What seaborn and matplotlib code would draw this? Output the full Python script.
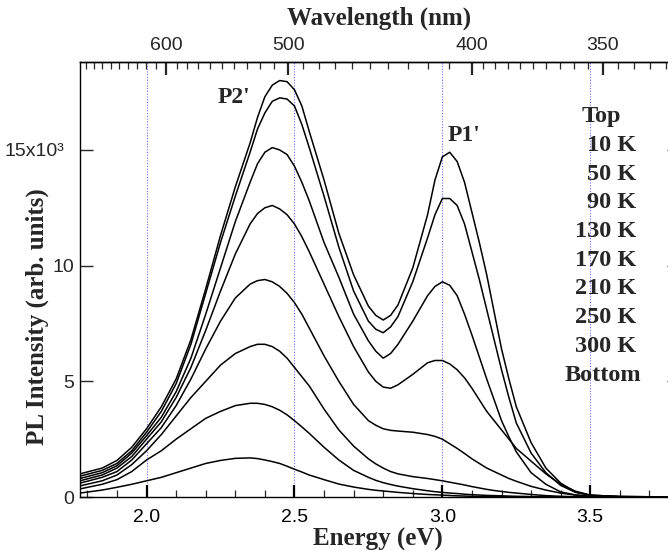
import numpy as np
import pandas as pd
import matplotlib
matplotlib.use("Agg")
import matplotlib.pyplot as plt
import matplotlib.transforms as mtrans
from matplotlib.ticker import FixedLocator, MultipleLocator, FixedFormatter, FormatStrFormatter
import seaborn as sns

# ---------------- data (PL intensity in units of 10^3 counts) ----------------
energy_ev = [1.775, 1.85, 1.90, 1.95, 2.00, 2.05, 2.10, 2.15, 2.20, 2.25,
             2.30, 2.35, 2.40, 2.45, 2.50, 2.55, 2.60, 2.65, 2.70, 2.75,
             2.80, 2.85, 2.90, 2.95, 3.00, 3.05, 3.10, 3.15, 3.20, 3.25,
             3.30, 3.35, 3.40, 3.45, 3.50, 3.60, 3.80]
# extra readings around the peaks and the valley
energy_ev_extra = [2.375, 2.425, 2.475, 2.525, 2.775, 2.825,
                   2.975, 3.025, 3.075, 3.125, 3.175, 3.225]

temperatures = ["10 K", "50 K", "90 K", "130 K", "170 K", "210 K", "250 K", "300 K"]

pl_10K = [1.00, 1.25, 1.58, 2.15, 2.95, 3.9, 5.1, 6.8, 9.0, 11.3,
          13.4, 15.3, 17.3, 18.0, 17.6, 15.8, 13.7, 11.4, 9.6, 8.25,
          7.65, 8.3, 9.9, 12.2, 14.7, 14.5, 12.3, 9.6, 6.4, 3.9,
          2.35, 1.25, 0.6, 0.22, 0.08, 0.02, 0.0]
pl_10K_extra = [16.4, 17.8, 17.95, 16.9, 7.85, 7.85, 13.7, 14.9, 13.6, 11.0, 8.0, 5.1]

pl_50K = [0.90, 1.15, 1.45, 2.0, 2.8, 3.7, 4.9, 6.6, 8.8, 11.0,
          13.0, 14.9, 16.6, 17.25, 16.9, 15.1, 13.0, 10.8, 8.9, 7.6,
          7.1, 7.8, 9.3, 11.2, 12.9, 12.6, 10.6, 8.1, 5.5, 3.2,
          1.9, 1.05, 0.5, 0.2, 0.07, 0.02, 0.0]
pl_50K_extra = [15.9, 17.1, 17.2, 16.1, 7.25, 7.35, 12.2, 12.9, 11.8, 9.4, 6.8, 4.3]

pl_90K = [0.80, 1.05, 1.35, 1.9, 2.65, 3.45, 4.55, 6.0, 7.9, 9.9,
          11.9, 13.6, 14.9, 15.0, 14.3, 12.8, 11.0, 9.5, 7.9, 6.75,
          6.0, 6.6, 7.6, 8.7, 9.3, 8.7, 7.0, 5.1, 3.3, 1.95,
          1.05, 0.55, 0.22, 0.09, 0.03, 0.01, 0.0]
pl_90K_extra = [14.4, 15.1, 14.8, 13.6, 6.3, 6.2, 9.1, 9.15, 7.9, 6.05, 4.2, 2.6]

pl_130K = [0.70, 0.95, 1.25, 1.75, 2.5, 3.25, 4.3, 5.6, 7.2, 8.9,
           10.5, 11.8, 12.5, 12.45, 11.8, 10.6, 9.2, 7.8, 6.5, 5.4,
           4.75, 4.85, 5.3, 5.8, 5.9, 5.5, 4.7, 3.7, 2.9, 2.1,
           1.55, 1.0, 0.55, 0.25, 0.08, 0.02, 0.0]
pl_130K_extra = [12.25, 12.6, 12.2, 11.25, 5.0, 4.7, 5.9, 5.75, 5.15, 4.2, 3.3, 2.5]

pl_170K = [0.60, 0.85, 1.1, 1.6, 2.3, 3.0, 3.95, 5.1, 6.4, 7.6,
           8.6, 9.2, 9.4, 9.1, 8.4, 7.3, 6.1, 5.0, 4.0, 3.3,
           2.95, 2.85, 2.8, 2.7, 2.5, 2.1, 1.65, 1.25, 0.95, 0.68,
           0.46, 0.3, 0.17, 0.08, 0.03, 0.01, 0.0]
pl_170K_extra = [9.35, 9.3, 8.8, 7.9, 3.1, 2.88, 2.62, 2.3, 1.88, 1.45, 1.1, 0.8]

pl_210K = [0.48, 0.7, 0.95, 1.4, 2.0, 2.7, 3.5, 4.3, 5.0, 5.7,
           6.2, 6.5, 6.6, 6.3, 5.6, 4.8, 3.8, 2.9, 2.2, 1.65,
           1.25, 1.0, 0.88, 0.8, 0.7, 0.58, 0.45, 0.33, 0.24, 0.17,
           0.11, 0.06, 0.03, 0.01, 0.0, 0.0, 0.0]
pl_210K_extra = [6.6, 6.5, 6.0, 5.2, 1.43, 1.1, 0.75, 0.64, 0.52, 0.39, 0.28, 0.2]

pl_250K = [0.35, 0.55, 0.75, 1.1, 1.6, 2.0, 2.5, 2.95, 3.4, 3.7,
           3.95, 4.05, 4.0, 3.75, 3.3, 2.75, 2.15, 1.6, 1.15, 0.85,
           0.62, 0.47, 0.36, 0.27, 0.2, 0.15, 0.1, 0.07, 0.05, 0.03,
           0.02, 0.01, 0.0, 0.0, 0.0, 0.0, 0.0]
pl_250K_extra = [4.05, 3.9, 3.55, 3.03, 0.72, 0.54, 0.23, 0.17, 0.12, 0.085, 0.06, 0.04]

pl_300K = [0.17, 0.3, 0.42, 0.55, 0.7, 0.85, 1.05, 1.25, 1.45, 1.58,
           1.67, 1.69, 1.6, 1.45, 1.2, 0.95, 0.75, 0.56, 0.43, 0.33,
           0.26, 0.2, 0.15, 0.11, 0.08, 0.05, 0.03, 0.02, 0.01, 0.0,
           0.0, 0.0, 0.0, 0.0, 0.0, 0.0, 0.0]
pl_300K_extra = [1.66, 1.53, 1.33, 1.08, 0.29, 0.23, 0.095, 0.065, 0.04, 0.025, 0.015, 0.005]

series = [pl_10K, pl_50K, pl_90K, pl_130K, pl_170K, pl_210K, pl_250K, pl_300K]
series_extra = [pl_10K_extra, pl_50K_extra, pl_90K_extra, pl_130K_extra,
                pl_170K_extra, pl_210K_extra, pl_250K_extra, pl_300K_extra]

energy_ticks = [2.0, 2.5, 3.0, 3.5]
intensity_ticks = [0, 5000, 10000, 15000]
intensity_labels = ["0", "5", "10", "15x10\u00b3"]
wavelength_major = [600, 500, 400, 350]
wavelength_labels = ["600", "500", "400", "350"]
wavelength_minor = [w for w in range(330, 700, 5)
                    if (w < 400 or w % 10 == 0) and w not in wavelength_major]
annotations_peaks = ["P2'", "P1'"]

# ---------------- long table ----------------
rows = []
for t, vals, extra in zip(temperatures, series, series_extra):
    for e, v in zip(energy_ev, vals):
        rows.append((e, v * 1000.0, t))
    for e, v in zip(energy_ev_extra, extra):
        rows.append((e, v * 1000.0, t))
df = pd.DataFrame(rows, columns=["Energy", "PL", "T"])

# ---------------- style ----------------
sns.set_style("white")
plt.rcParams["font.family"] = ["Liberation Sans", "DejaVu Sans"]
plt.rcParams["axes.edgecolor"] = "black"
plt.rcParams["axes.linewidth"] = 1.0

W, H = 668, 551
fig = plt.figure(figsize=(W / 100, H / 100), dpi=100)
ax_left, ax_right, ax_top, ax_bottom = 80, 679, 62, 497
ax = fig.add_axes([ax_left / W, (H - ax_bottom) / H,
                   (ax_right - ax_left) / W, (ax_bottom - ax_top) / H])

sns.lineplot(data=df, x="Energy", y="PL", units="T", estimator=None,
             sort=True, color="black", lw=1.1, ax=ax, legend=False)

ax.set_xlim(1.775, 3.8)
ax.set_ylim(0, 18800)
ax.set_xlabel("")
ax.set_ylabel("")

# bottom axis
ax.xaxis.set_major_locator(FixedLocator(energy_ticks))
ax.xaxis.set_major_formatter(FormatStrFormatter("%.1f"))
ax.xaxis.set_minor_locator(MultipleLocator(0.1))
ax.tick_params(axis="x", which="major", direction="in", length=9, width=1.6,
               pad=8.5, labelsize=14, top=False, bottom=True, colors="black")
ax.tick_params(axis="x", which="minor", direction="in", length=5, width=0.9,
               top=False, bottom=True)

# left / right axis
ax.yaxis.set_major_locator(FixedLocator(intensity_ticks))
ax.yaxis.set_major_formatter(FixedFormatter(intensity_labels))
ax.tick_params(axis="y", which="major", direction="in", length=9, width=1.0,
               pad=4, labelsize=14, left=True, right=True)

# blue dotted guide lines at the energy ticks
ax.set_axisbelow(True)
ax.grid(True, axis="x", which="major", color="#6a6aff", linestyle=(0, (1, 1.5)),
        linewidth=0.8)
ax.grid(False, axis="y")


def e2nm(x):
    x = np.asarray(x, dtype=float)
    with np.errstate(divide="ignore", invalid="ignore"):
        return 1239.84 / x


sec = ax.secondary_xaxis("top", functions=(e2nm, e2nm))
sec.xaxis.set_major_locator(FixedLocator(wavelength_major))
sec.xaxis.set_major_formatter(FixedFormatter(wavelength_labels))
sec.xaxis.set_minor_locator(FixedLocator(wavelength_minor))
sec.tick_params(which="major", direction="in", length=9, width=1.6, pad=6,
                labelsize=14)
sec.tick_params(which="minor", direction="in", length=5, width=0.9)

for sp in ax.spines.values():
    sp.set_color("black")
    sp.set_linewidth(1.0)


def fx(x):
    return x / W


def fy(y):
    return 1 - y / H


serif = ["Liberation Serif", "DejaVu Serif"]
fig.text(fx(378), fy(546), "Energy (eV)", ha="center", va="baseline",
         fontsize=18, fontweight="bold", family=serif)
fig.text(fx(379), fy(25), "Wavelength (nm)", ha="center", va="baseline",
         fontsize=18, fontweight="bold", family=serif)
fig.text(fx(37), fy(317), "PL Intensity (arb. units)", ha="center", va="center",
         rotation=90, fontsize=18, fontweight="bold", family=serif)

fig.text(fx(234), fy(103), annotations_peaks[0], ha="center", va="baseline",
         fontsize=17, fontweight="bold", family=serif)
fig.text(fx(464), fy(141), annotations_peaks[1], ha="center", va="baseline",
         fontsize=17, fontweight="bold", family=serif)

fig.text(fx(601), fy(122), "Top", ha="center", va="baseline",
         fontsize=17.5, fontweight="bold", family=serif)
base = 151.0
step = 28.7
for i, t in enumerate(temperatures):
    fig.text(fx(636), fy(base + i * step), t, ha="right", va="baseline",
             fontsize=17.5, fontweight="bold", family=serif)
fig.text(fx(603), fy(381), "Bottom", ha="center", va="baseline",
         fontsize=17.5, fontweight="bold", family=serif)

# shift the "15x10^3" label to the left as in the original
for lab in ax.yaxis.get_majorticklabels():
    if lab.get_text().startswith("15"):
        lab.set_transform(lab.get_transform() +
                          mtrans.ScaledTranslation(-10 / 100, 0, fig.dpi_scale_trans))

fig.savefig("out.png", dpi=100)
